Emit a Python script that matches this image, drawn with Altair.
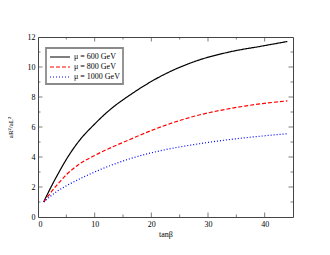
import altair as alt
import pandas as pd

series_names = ["μ = 600 GeV", "μ = 800 GeV", "μ = 1000 GeV"]
series_colors = ["#000000", "#ff0000", "#0000ff"]
series_dash = [[1, 0], [4, 2], [1, 2]]

tanb_600 = [1, 2.3, 3.5, 5.1, 7, 10, 12.85, 16.1, 22, 27.9, 33.75, 39.6, 44]
val_600 = [1, 2, 2.85, 3.9, 4.95, 6.2, 7.2, 8.1, 9.45, 10.4, 11.0, 11.4, 11.7]
tanb_800 = [1, 3.5, 5.1, 7, 10, 16.1, 22, 27.9, 33.75, 39.6, 44]
val_800 = [1, 2.2, 2.85, 3.45, 4.1, 5.15, 6.05, 6.75, 7.22, 7.56, 7.74]
tanb_1000 = [1, 3.5, 5.1, 10, 16.1, 22, 27.9, 33.75, 39.6, 44]
val_1000 = [1, 1.75, 2.1, 3.0, 3.87, 4.45, 4.85, 5.16, 5.4, 5.55]

x_major = [10, 20, 30, 40]
x_minor = [5, 15, 25, 35]
y_major = [2, 4, 6, 8, 10]
y_minor = [1, 3, 5, 7, 9, 11]
x_labels = [0, 10, 20, 30, 40]
y_labels = [0, 2, 4, 6, 8, 10, 12]

rows = []
for name, xs, ys in zip(series_names, [tanb_600, tanb_800, tanb_1000], [val_600, val_800, val_1000]):
    for i, (a, b) in enumerate(zip(xs, ys)):
        rows.append({"series": name, "tanb": a, "val": b, "order": i})
df = pd.DataFrame(rows)

xt = pd.DataFrame([{"v": v, "len": 9} for v in x_major] + [{"v": v, "len": 5} for v in x_minor])
yt = pd.DataFrame([{"v": v, "len": 9} for v in y_major] + [{"v": v, "len": 5} for v in y_minor])

FONT = "Liberation Serif"
FRAME = "#444444"
xscale = alt.Scale(domain=[0, 45], nice=False)
yscale = alt.Scale(domain=[0, 12], nice=False)

xaxis = alt.Axis(values=x_labels, ticks=False, domain=False, grid=False, labelOverlap=False,
                 labelFont=FONT, labelFontSize=8, labelColor="black", labelPadding=3,
                 title="tanβ", titleFont=FONT, titleFontSize=8, titleFontWeight="normal",
                 titleColor="black", titlePadding=2)
yaxis = alt.Axis(values=y_labels, ticks=False, domain=False, grid=False, labelOverlap=False,
                 labelFont=FONT, labelFontSize=8, labelColor="black", labelPadding=3,
                 title="aR²/aL²", titleFont=FONT, titleFontSize=7, titleFontWeight="normal",
                 titleColor="black", titlePadding=14)

legend = alt.Legend(orient="none", legendX=8, legendY=11, title=None,
                    symbolType="M-1,0H3", symbolSize=100, symbolStrokeWidth=1.2,
                    labelFont=FONT, labelFontSize=8, labelColor="black",
                    labelOffset=13, rowPadding=-1, padding=3,
                    strokeColor="#8a8a8a", fillColor="white")

lines = alt.Chart(df).mark_line(strokeWidth=1.2, interpolate="monotone").encode(
    x=alt.X("tanb:Q", scale=xscale, axis=xaxis, title="tanβ"),
    y=alt.Y("val:Q", scale=yscale, axis=yaxis, title="aR²/aL²"),
    color=alt.Color("series:N", scale=alt.Scale(domain=series_names, range=series_colors),
                    legend=legend),
    strokeDash=alt.StrokeDash("series:N", scale=alt.Scale(domain=series_names, range=series_dash),
                              legend=legend),
    order="order:Q",
)

def xticks(at):
    return alt.Chart(xt).mark_tick(orient="vertical", clip=True, color=FRAME, thickness=1).encode(
        x=alt.X("v:Q", scale=xscale, axis=xaxis, title="tanβ"),
        y=alt.Y(datum=at, scale=yscale, axis=yaxis, title="aR²/aL²"),
        size=alt.Size("len:Q", scale=None))

def yticks(at):
    return alt.Chart(yt).mark_tick(orient="horizontal", clip=True, color=FRAME, thickness=1).encode(
        y=alt.Y("v:Q", scale=yscale, axis=yaxis, title="aR²/aL²"),
        x=alt.X(datum=at, scale=xscale, axis=xaxis, title="tanβ"),
        size=alt.Size("len:Q", scale=None))

chart = alt.layer(lines, xticks(0), xticks(12), yticks(0), yticks(45)).properties(
    width=255, height=180,
    padding={"left": 30, "top": 29, "right": 20, "bottom": 30},
    autosize=alt.AutoSizeParams(type="none"),
).configure_view(stroke=FRAME, strokeWidth=1).configure_legend(strokeWidth=1.8)

chart.save("out.html", embed_options={"renderer": "svg", "actions": False})
